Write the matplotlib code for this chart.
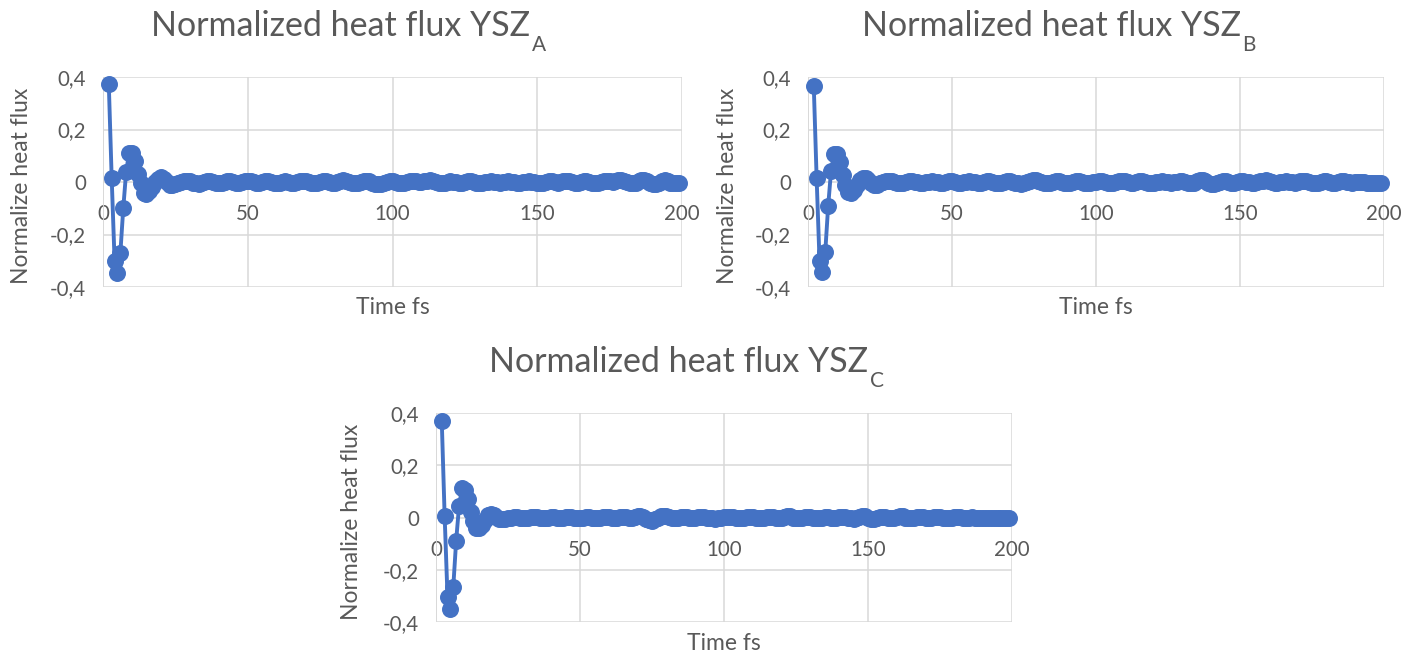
import matplotlib
matplotlib.use("Agg")
import matplotlib.pyplot as plt
import numpy as np
from matplotlib.ticker import FuncFormatter

plt.rcParams['font.family'] = ['Lato', 'DejaVu Sans']

# time axis (fs)
tempo = np.arange(2, 200)

# normalized heat flux, YSZ_A
fluxo_a = [
    0.373, 0.015, -0.300, -0.347, -0.270, -0.100, 0.040, 0.110, 0.110, 0.080,
    0.030, -0.005, -0.040, -0.045, -0.035, -0.020, 0.000, 0.012, 0.018, 0.012,
    0.000, -0.010, -0.012, -0.006, -0.002,
    0.000, 0.003, 0.004, 0.002, -0.002, -0.005, -0.006, -0.004, -0.001, 0.002,
    0.003, 0.001, -0.002, -0.004, -0.003, 0.000, 0.002, 0.002, -0.001, -0.003,
    -0.003, 0.000, 0.003, 0.004, 0.002, -0.001, -0.003, -0.002, 0.001, 0.003,
    0.002, -0.001, -0.004, -0.005, -0.003, 0.000, 0.002, 0.001, -0.002, -0.003,
    -0.001, 0.002, 0.004, 0.003, 0.000, -0.003, -0.004, -0.002, 0.001, 0.003,
    0.002, -0.001, -0.003, -0.002, 0.001, 0.004, 0.006, 0.004, 0.000, -0.003,
    -0.005, -0.004, -0.001, 0.003, 0.005, 0.003, -0.002, -0.006, -0.008, -0.006,
    -0.002, 0.001, 0.003, 0.002, 0.000, -0.002, -0.003, -0.002, 0.000, 0.002,
    0.003, 0.002, 0.000, -0.001, 0.002, 0.005, 0.006, 0.003, -0.001, -0.004,
    -0.004, -0.002, 0.001, 0.002, 0.001, -0.001, -0.003, -0.002, 0.000, 0.002,
    0.002, 0.000, -0.002, -0.004, -0.003, -0.001, 0.001, 0.002, 0.001, -0.001,
    -0.002, -0.001, 0.001, 0.002, 0.001, -0.001, -0.003, -0.003, -0.001, 0.001,
    0.002, 0.001, -0.001, -0.003, -0.004, -0.002, 0.001, 0.003, 0.002, -0.001,
    -0.002, 0.000, 0.003, 0.005, 0.004, 0.001, -0.002, -0.003, -0.001, 0.002,
    0.003, 0.001, -0.002, -0.004, -0.003, 0.000, 0.003, 0.004, 0.002, -0.001,
    0.002, 0.006, 0.008, 0.005, 0.000, -0.004, -0.005, -0.002, 0.003, 0.007,
    0.008, 0.004, -0.003, -0.008, -0.007, -0.002, 0.004, 0.007, 0.004, -0.002,
    -0.004, -0.003, -0.004,
]

# normalized heat flux, YSZ_B
fluxo_b = [
    0.366, 0.014, -0.300, -0.344, -0.265, -0.092, 0.042, 0.106, 0.105, 0.075,
    0.028, -0.010, -0.038, -0.040, -0.030, -0.012, 0.006, 0.016, 0.016, 0.008,
    -0.004, -0.010, -0.010, -0.005, -0.001,
    0.002, 0.003, 0.002, 0.000, -0.002, -0.003, -0.002, 0.000, 0.002, 0.003,
    0.001, -0.001, -0.003, -0.003, -0.001, 0.001, 0.002, 0.001, -0.001, -0.002,
    -0.002, 0.000, 0.002, 0.002, 0.000, -0.002, -0.003, -0.001, 0.001, 0.002,
    0.001, -0.001, -0.002, -0.002, 0.000, 0.002, 0.003, 0.001, -0.002, -0.004,
    -0.003, 0.000, 0.002, 0.003, 0.001, -0.002, -0.004, -0.006, -0.005, -0.001,
    0.003, 0.006, 0.007, 0.004, 0.000, -0.003, -0.004, -0.002, 0.001, 0.003,
    0.002, -0.001, -0.003, -0.004, -0.002, 0.001, 0.003, 0.002, -0.001, -0.003,
    -0.004, -0.003, -0.001, 0.001, 0.002, 0.002, 0.000, -0.002, -0.003, -0.002,
    0.000, 0.002, 0.003, 0.002, 0.000, -0.002, -0.002, 0.000, 0.002, 0.003,
    0.001, -0.002, -0.004, -0.003, -0.001, 0.001, 0.002, 0.001, -0.001, -0.002,
    -0.001, 0.001, 0.002, 0.002, 0.000, -0.002, -0.003, -0.002, 0.002, 0.006,
    0.007, 0.003, -0.003, -0.007, -0.008, -0.004, 0.000, 0.002, 0.002, 0.000,
    -0.002, -0.002, 0.000, 0.002, 0.003, 0.001, -0.001, -0.003, -0.002, 0.000,
    0.002, 0.004, 0.006, 0.004, 0.001, -0.002, -0.003, -0.001, 0.001, 0.002,
    0.001, -0.001, -0.002, -0.001, 0.002, 0.004, 0.003, 0.000, -0.003, -0.004,
    -0.002, 0.001, 0.003, 0.002, -0.001, -0.003, -0.002, 0.000, 0.002, 0.003,
    0.001, -0.001, -0.002, -0.001, 0.000, 0.001, -0.001, -0.003, -0.003, -0.002,
    -0.003, -0.004, -0.004,
]

# normalized heat flux, YSZ_C
fluxo_c = [
    0.370, 0.006, -0.305, -0.351, -0.265, -0.089, 0.044, 0.112, 0.105, 0.070,
    0.022, -0.015, -0.040, -0.042, -0.030, -0.010, 0.008, 0.014, 0.010, 0.002,
    -0.004, -0.006, -0.004, -0.002, 0.000,
    0.001, 0.001, 0.000, -0.001, -0.002, -0.001, 0.001, 0.002, 0.001, -0.001,
    -0.002, -0.002, 0.000, 0.001, 0.001, -0.001, -0.002, -0.001, 0.001, 0.002,
    0.001, -0.001, -0.002, -0.002, 0.000, 0.002, 0.002, 0.000, -0.002, -0.003,
    -0.001, 0.001, 0.002, 0.001, -0.001, -0.002, -0.001, 0.001, 0.002, 0.001,
    -0.001, -0.002, 0.001, 0.005, 0.007, 0.003, -0.004, -0.010, -0.012, -0.007,
    -0.001, 0.004, 0.006, 0.004, 0.001, -0.001, -0.002, -0.001, 0.001, 0.002,
    0.001, -0.001, -0.002, -0.001, 0.001, 0.003, 0.002, 0.000, -0.002, -0.003,
    -0.004, -0.003, -0.001, 0.001, 0.002, 0.003, 0.002, 0.000, -0.002, -0.002,
    0.000, 0.002, 0.002, 0.001, -0.001, -0.003, -0.003, -0.001, 0.001, 0.002,
    0.001, -0.001, -0.002, 0.000, 0.003, 0.006, 0.004, 0.000, -0.002, -0.003,
    -0.001, 0.001, 0.002, 0.001, -0.001, -0.002, -0.001, 0.000, 0.001, 0.001,
    -0.001, -0.002, -0.001, 0.001, 0.002, 0.001, -0.001, -0.003, -0.004, -0.002,
    0.002, 0.005, 0.004, -0.001, -0.005, -0.006, -0.003, 0.001, 0.003, 0.002,
    0.000, -0.002, -0.001, 0.002, 0.005, 0.004, 0.000, -0.003, -0.003, -0.001,
    0.001, 0.002, 0.001, -0.001, -0.002, -0.001, 0.001, 0.003, 0.002, 0.000,
    -0.002, -0.003, -0.001, 0.002, 0.003, 0.001, -0.001, -0.002, 0.000, 0.001,
    0.000, -0.001, -0.002, -0.001, 0.000, -0.001, -0.002, -0.002, -0.003, -0.002,
    -0.003, -0.003, -0.003,
]

subscritos = ["A", "B", "C"]
y_ticks = [-0.4, -0.2, 0, 0.2, 0.4]
x_ticks = [0, 50, 100, 150, 200]

W, H = 1418, 659
azul = "#4472C4"
cinza_texto = "#595959"
cinza_grade = "#D9D9D9"

fig = plt.figure(figsize=(W / 100, H / 100), dpi=100)


def formato_virgula(v, pos):
    if abs(v) < 1e-9:
        return "0"
    return f"{v:.1f}".replace(".", ",")


def grafico(left, top, right, bottom, dados, sub, titulo_cx, ylab_x):
    ax = fig.add_axes([left / W, 1 - bottom / H, (right - left) / W, (bottom - top) / H])
    ax.plot(tempo, dados, color=azul, lw=2.8, marker="o", ms=11.2,
            markeredgecolor=azul, clip_on=False, zorder=3)
    ax.set_xlim(0, 200)
    ax.set_ylim(-0.4, 0.4)
    ax.set_xticks(x_ticks)
    ax.set_yticks(y_ticks)
    ax.yaxis.set_major_formatter(FuncFormatter(formato_virgula))
    ax.grid(True, color=cinza_grade, lw=1.1)
    ax.set_axisbelow(True)
    for s in ["top", "right", "left"]:
        ax.spines[s].set_visible(False)
    ax.spines["bottom"].set_position(("data", 0))
    ax.spines["bottom"].set_visible(False)
    ax.axvline(0, color=cinza_grade, lw=1.3, zorder=1)
    ax.tick_params(axis="both", length=0, labelsize=14.8, labelcolor=cinza_texto)
    ax.tick_params(axis="x", pad=16)
    ax.tick_params(axis="y", pad=12)

    # axis titles
    ax.text(0.5, -21 / (bottom - top), "Time fs", transform=ax.transAxes,
            ha="center", va="center", fontsize=16.5, color=cinza_texto)
    fig.text(ylab_x / W, 1 - ((top + bottom) / 2 + 4) / H, "Normalize heat flux",
             rotation=90, ha="center", va="center", fontsize=16.5, color=cinza_texto)

    # chart title with subscript
    base_y = 1 - (top - 41) / H
    t1 = fig.text(0, base_y, "Normalized heat flux YSZ", ha="left", va="baseline",
                  fontsize=24.5, color=cinza_texto)
    t2 = fig.text(0, base_y + 1 / H, sub, ha="left", va="top",
                  fontsize=15, color=cinza_texto)
    r = fig.canvas.get_renderer()
    w1 = t1.get_window_extent(r).width
    w2 = t2.get_window_extent(r).width
    x0 = titulo_cx - (w1 + w2) / 2
    t1.set_x(x0 / W)
    t2.set_x((x0 + w1 + 1) / W)
    return ax


grafico(103, 77, 682, 287, fluxo_a, subscritos[0], 348, 22)
grafico(808, 77, 1384, 287, fluxo_b, subscritos[1], 1058, 727)
grafico(436, 413, 1012, 622, fluxo_c, subscritos[2], 686, 352)

fig.savefig("out.png", dpi=100, facecolor="white")
